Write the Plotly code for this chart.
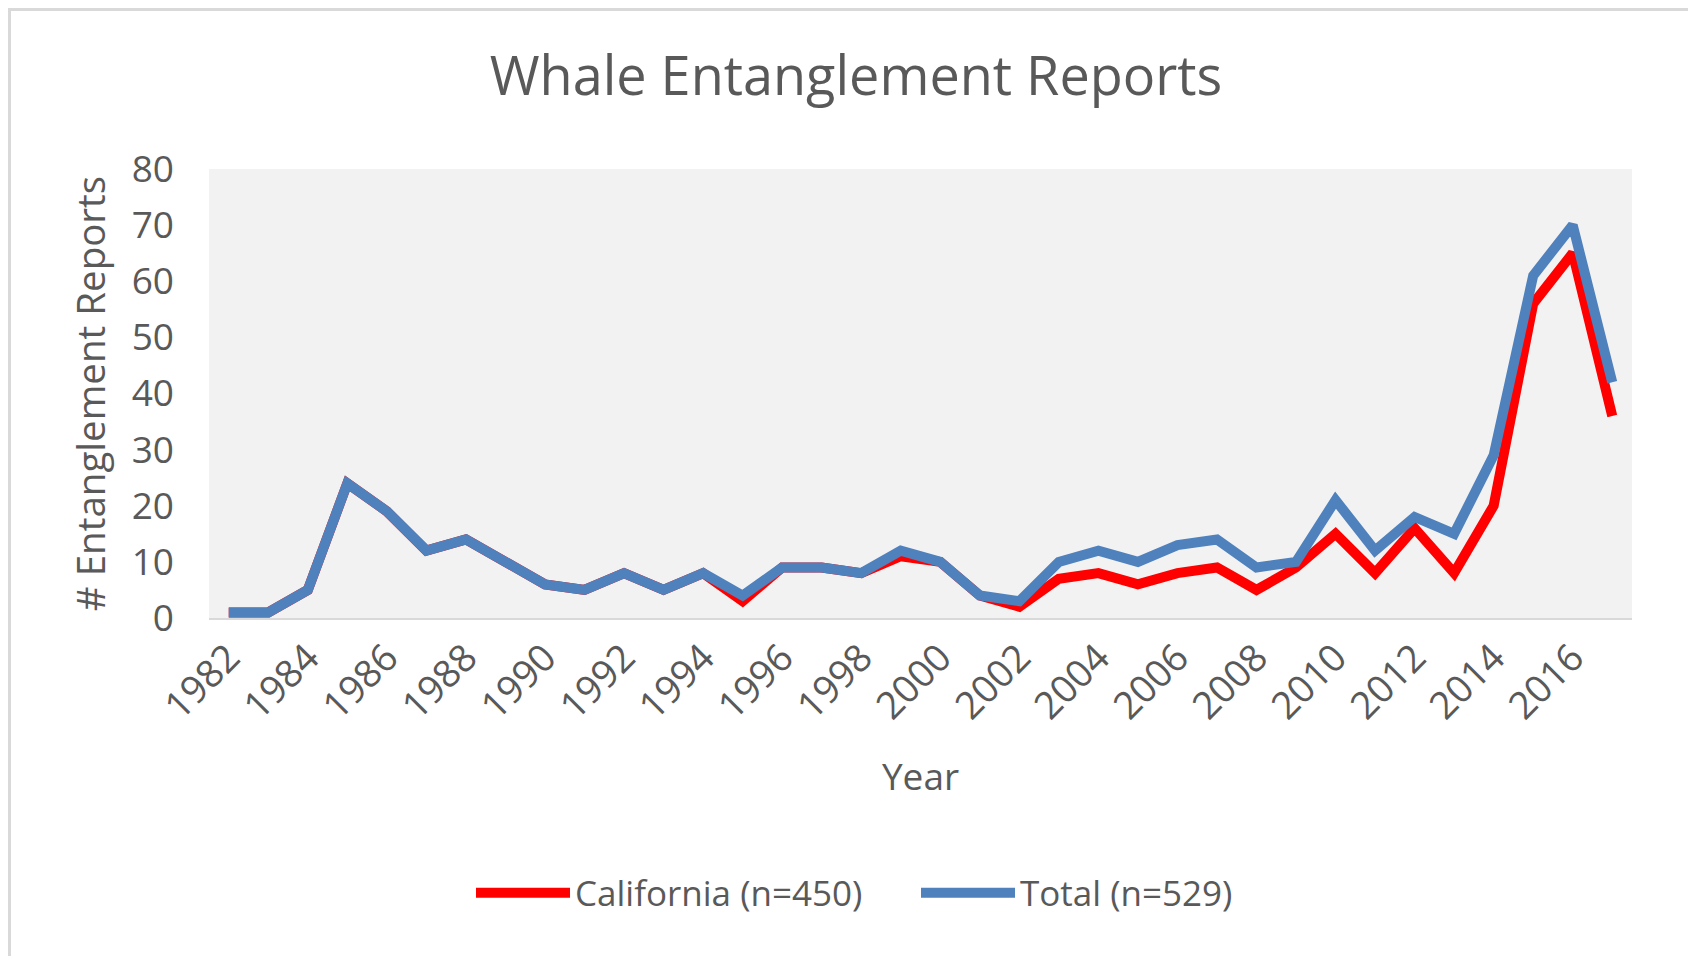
import plotly.graph_objects as go

years = list(range(1982, 2018))
california = [1, 1, 5, 24, 19, 12, 14, 10, 6, 5, 8, 5, 8, 3, 9, 9, 8, 11, 10, 4, 2,
              7, 8, 6, 8, 9, 5, 9, 15, 8, 16, 8, 20, 56, 65, 36]
total = [1, 1, 5, 24, 19, 12, 14, 10, 6, 5, 8, 5, 8, 4, 9, 9, 8, 12, 10, 4, 3,
         10, 12, 10, 13, 14, 9, 10, 21, 12, 18, 15, 29, 61, 70, 42]
tick_years = list(range(1982, 2018, 2))
y_ticks = list(range(0, 81, 10))

FONT = "Open Sans"
TXT = "#595959"

W, H = 1696, 956
L, R, T, B = 201, 1624, 161, 610  # plot area in figure pixels

fig = go.Figure()
fig.add_trace(go.Scatter(x=years, y=california, mode="lines", name="California (n=450)",
                         line=dict(color="#ff0000", width=10)))
fig.add_trace(go.Scatter(x=years, y=total, mode="lines", name="Total (n=529)",
                         line=dict(color="#4f81bd", width=10)))

def px(x):
    return (x - L) / (R - L)

def py(y):
    return (B - y) / (B - T)

fig.update_layout(
    width=W, height=H,
    margin=dict(l=L, r=W - R, t=T, b=H - B, autoexpand=False),
    paper_bgcolor="white",
    plot_bgcolor="#f2f2f2",
    font=dict(family=FONT, color=TXT),
    title=dict(text="Whale Entanglement Reports", x=0.5, xanchor="center",
               y=1 - 68.5 / H, yanchor="middle", font=dict(size=54, color=TXT)),
    showlegend=True,
    legend=dict(orientation="h", x=px(463), xanchor="left", y=py(885), yanchor="middle",
                font=dict(size=35, color=TXT), itemwidth=94, entrywidth=336,
                entrywidthmode="pixels", bgcolor="rgba(0,0,0,0)"),
    xaxis=dict(range=[1981.5, 2017.5], tickmode="array", tickvals=tick_years,
               ticktext=[str(v) for v in tick_years], tickangle=-45,
               tickfont=dict(size=38, color=TXT), showgrid=False, zeroline=False,
               showline=True, linecolor="#d9d9d9", linewidth=2, ticks="",
               title=dict(text="Year", font=dict(size=37, color=TXT), standoff=36)),
    yaxis=dict(range=[0, 80], tickmode="array", tickvals=y_ticks,
               tickfont=dict(size=37, color=TXT), showgrid=False, zeroline=False,
               showline=False, ticks="", ticklabelstandoff=34,
               title=dict(text="# Entanglement Reports", font=dict(size=38.5, color=TXT), standoff=14)),
    shapes=[dict(type="rect", xref="paper", yref="paper",
                 x0=px(1), x1=px(1684), y0=py(1), y1=py(1000),
                 line=dict(color="#d9d9d9", width=4), fillcolor="rgba(0,0,0,0)", layer="below")],
)

fig.write_html("out.html")
